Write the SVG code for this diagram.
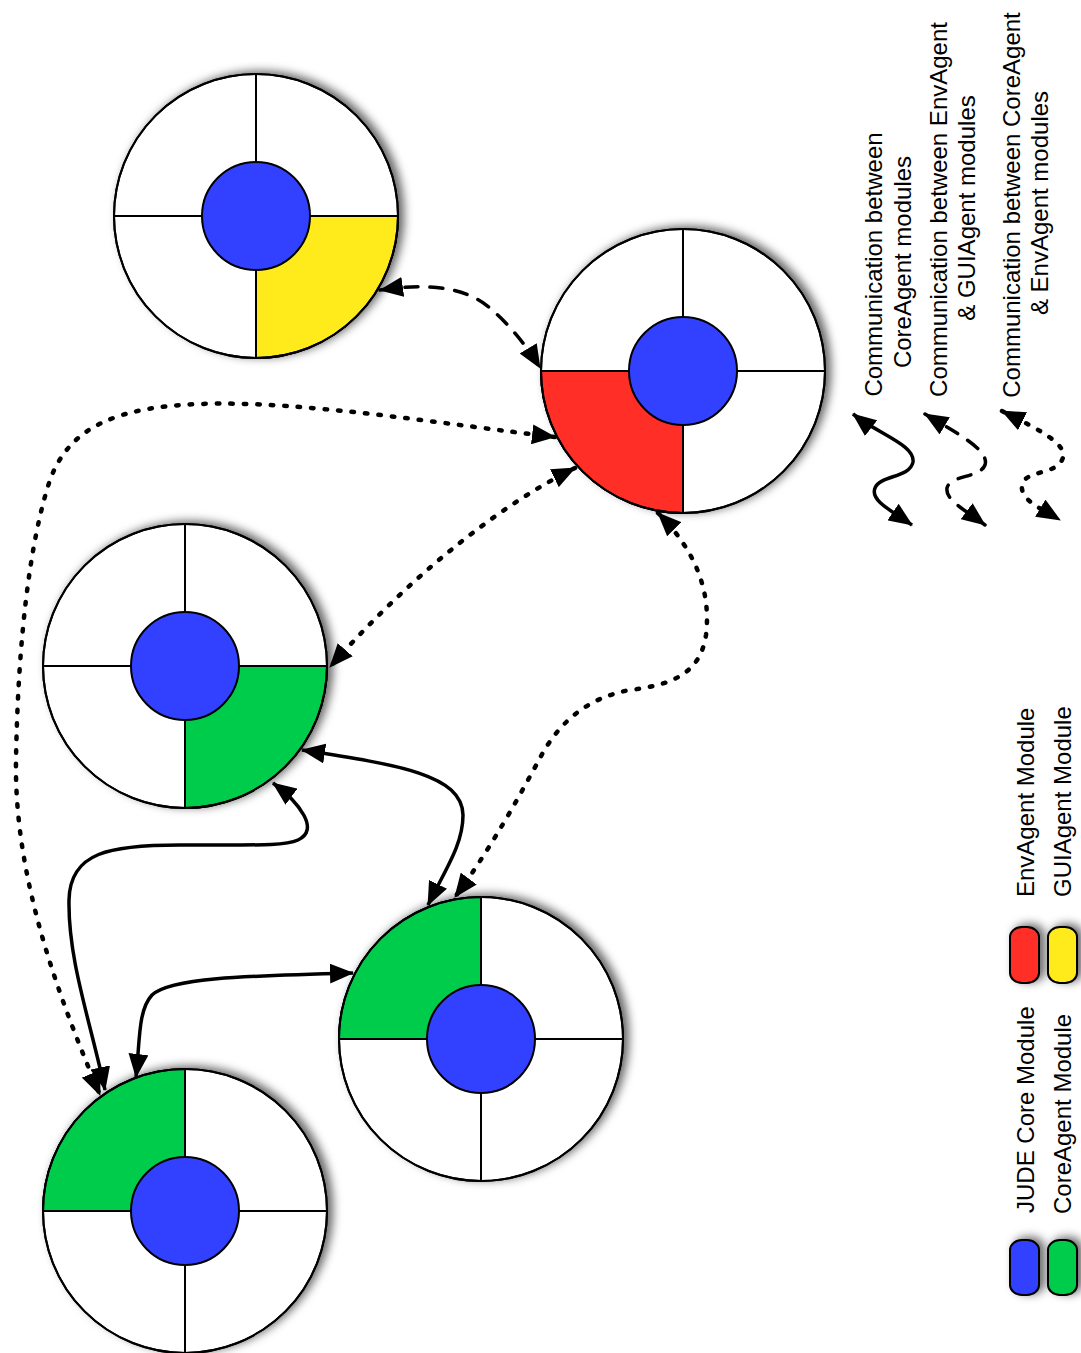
<svg xmlns="http://www.w3.org/2000/svg" width="1081" height="1353" viewBox="0 0 1081 1353">
  <style>
    .outer { fill: #ffffff; stroke: #000000; stroke-width: 2; }
    .cross { fill: none; stroke: #000000; stroke-width: 2; }
    .core  { fill: #3340ff; stroke: #000000; stroke-width: 2; }
    .wedge { stroke: #000000; stroke-width: 2; }
    .coreagent { fill: #00cc4b; }
    .envagent  { fill: #ff2d26; }
    .guiagent  { fill: #ffeb1c; }
    .link { fill: none; stroke: #000000; stroke-width: 3.5; marker-start: url(#arrow); marker-end: url(#arrow); }
    .dashed { stroke-dasharray: 13 12; stroke-linecap: round; }
    .dotted { stroke-width: 4.5; stroke-dasharray: 2.5 11; stroke-linecap: round; }
    .pill { stroke: #000000; stroke-width: 2; }
    text { font-family: "Liberation Sans", Arial, Helvetica, sans-serif; font-size: 24px; fill: #000000; }
  </style>
  <defs>
    <filter id="shadow" x="-20%" y="-20%" width="140%" height="140%">
      <feDropShadow dx="5" dy="-2" stdDeviation="5" flood-color="#000000" flood-opacity="0.6"/>
    </filter>
    <marker id="arrow" viewBox="0 0 24 20" refX="23" refY="10" markerWidth="24" markerHeight="20" markerUnits="userSpaceOnUse" orient="auto-start-reverse">
      <path d="M0,0 L24,10 L0,20 Z" fill="#000000"/>
    </marker>
    <path id="crossLines" d="M-142,0 H142 M0,-142 V142"/>
  </defs>

  <rect width="1081" height="1353" fill="#ffffff"/>

  <!-- agent nodes: ring, coloured module wedge, cross, JUDE core -->
  <g id="node-gui" transform="translate(256,216)" filter="url(#shadow)">
    <circle class="outer" r="142"/>
    <path class="wedge guiagent" d="M0,0 H142 A142,142 0 0 1 0,142 Z"/>
    <use href="#crossLines" class="cross"/>
    <circle class="outer" r="142" style="fill:none"/>
    <circle class="core" r="54"/>
  </g>

  <g id="node-env" transform="translate(683,371)" filter="url(#shadow)">
    <circle class="outer" r="142"/>
    <path class="wedge envagent" d="M0,0 V142 A142,142 0 0 1 -142,0 Z"/>
    <use href="#crossLines" class="cross"/>
    <circle class="outer" r="142" style="fill:none"/>
    <circle class="core" r="54"/>
  </g>

  <g id="node-core-a" transform="translate(185,666)" filter="url(#shadow)">
    <circle class="outer" r="142"/>
    <path class="wedge coreagent" d="M0,0 H142 A142,142 0 0 1 0,142 Z"/>
    <use href="#crossLines" class="cross"/>
    <circle class="outer" r="142" style="fill:none"/>
    <circle class="core" r="54"/>
  </g>

  <g id="node-core-b" transform="translate(481,1039)" filter="url(#shadow)">
    <circle class="outer" r="142"/>
    <path class="wedge coreagent" d="M0,0 H-142 A142,142 0 0 1 0,-142 Z"/>
    <use href="#crossLines" class="cross"/>
    <circle class="outer" r="142" style="fill:none"/>
    <circle class="core" r="54"/>
  </g>

  <g id="node-core-c" transform="translate(185,1211)" filter="url(#shadow)">
    <circle class="outer" r="142"/>
    <path class="wedge coreagent" d="M0,0 H-142 A142,142 0 0 1 0,-142 Z"/>
    <use href="#crossLines" class="cross"/>
    <circle class="outer" r="142" style="fill:none"/>
    <circle class="core" r="54"/>
  </g>

  <!-- communication links -->
  <g id="connectors">
    <path class="link dashed" d="M380,290 C430,283 465,287 490,308 C510,325 528,348 540,368"/>
    <path class="link dotted" d="M555,437 C450,425 300,400 200,404 C120,407 70,425 50,480 C30,540 18,640 16,760 C14,880 60,1000 100,1095"/>
    <path class="link dotted" d="M575,468 C510,500 420,565 330,667"/>
    <path class="link dotted" d="M658,513 C690,545 712,585 706,635 C700,675 670,685 630,690 C590,697 560,720 540,758 C520,795 490,850 455,897"/>
    <path class="link" d="M302,750 C400,765 462,775 463,815 C463,845 445,870 428,905"/>
    <path class="link" d="M273,783 C300,803 320,830 298,840 C285,846 260,845 180,845 C110,845 70,852 69,900 C68,960 90,1020 105,1090"/>
    <path class="link" d="M353,973 C240,976 170,978 152,995 C138,1010 140,1040 136,1077"/>
  </g>

  <!-- link style key -->
  <g id="key-links">
    <path class="link" d="M853,414 C880,435 915,445 913,462 C910,478 880,475 875,488 C870,500 890,510 912,525"/>
    <path class="link dashed" d="M925,414 C955,432 990,450 985,465 C980,478 950,475 947,488 C945,500 965,510 985,525"/>
    <path class="link dotted" d="M1002,411 C1040,430 1070,445 1062,460 C1055,475 1025,470 1022,485 C1020,500 1040,508 1060,520"/>
    <text text-anchor="middle" transform="translate(882,264.5) rotate(-90)">Communication between</text>
    <text text-anchor="middle" transform="translate(911,262) rotate(-90)">CoreAgent modules</text>
    <text text-anchor="middle" transform="translate(947,209.5) rotate(-90)">Communication between EnvAgent</text>
    <text text-anchor="middle" transform="translate(975,208) rotate(-90)">&amp; GUIAgent modules</text>
    <text text-anchor="middle" transform="translate(1020,205) rotate(-90)">Communication between CoreAgent</text>
    <text text-anchor="middle" transform="translate(1048,203) rotate(-90)">&amp; EnvAgent modules</text>
  </g>

  <!-- module colour key -->
  <g id="key-modules">
    <g filter="url(#shadow)">
      <rect class="pill" x="1010" y="1240" width="29" height="55" rx="12" ry="10" fill="#3340ff"/>
      <rect class="pill" x="1048" y="1240" width="29" height="55" rx="12" ry="10" fill="#00cc4b"/>
      <rect class="pill" x="1010" y="927" width="29" height="56" rx="12" ry="10" fill="#ff2d26"/>
      <rect class="pill" x="1048" y="927" width="29" height="56" rx="12" ry="10" fill="#ffeb1c"/>
    </g>
    <text transform="translate(1034,1213) rotate(-90)">JUDE Core Module</text>
    <text transform="translate(1071,1214) rotate(-90)">CoreAgent Module</text>
    <text transform="translate(1034,897) rotate(-90)">EnvAgent Module</text>
    <text transform="translate(1071,897) rotate(-90)">GUIAgent Module</text>
  </g>
</svg>
